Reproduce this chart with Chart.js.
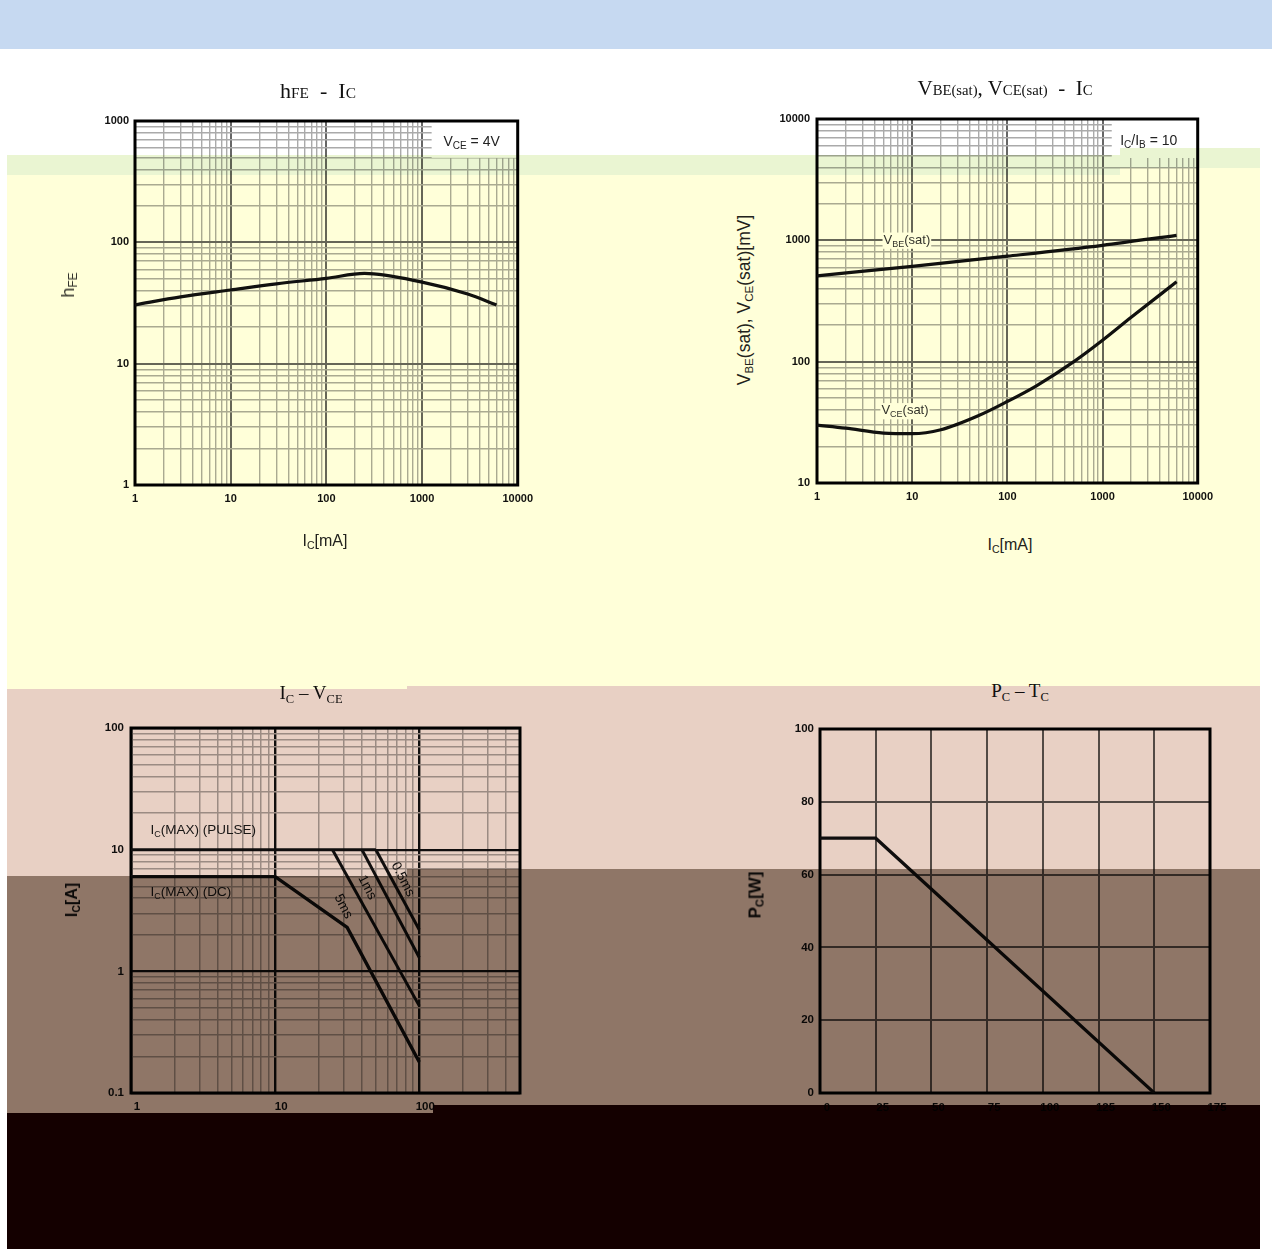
<!DOCTYPE html>
<html><head><meta charset="utf-8">
<script src="https://cdn.jsdelivr.net/npm/chart.js@4.4.1/dist/chart.umd.min.js"></script>
<style>
html,body{margin:0;padding:0;background:#fff;}
body{width:1274px;height:1249px;position:relative;overflow:hidden;font-family:"Liberation Sans",Arial,sans-serif;}
canvas.cv{position:absolute;}
.t{position:absolute;white-space:pre;transform:translate(-50%,-50%);color:#111;line-height:1;}
.rot{transform:translate(-50%,-50%) rotate(-90deg);}
.s{font-size:0.66em;position:relative;top:0.28em;}
.sm{font-size:0.7em;}
.serif{font-family:"Liberation Serif","DejaVu Serif",serif;}
.ov{position:absolute;mix-blend-mode:multiply;pointer-events:none;z-index:5;}
</style></head>
<body>
<canvas id="c1" class="cv" width="480" height="420" style="left:60px;top:100px"></canvas>
<canvas id="c2" class="cv" width="460" height="420" style="left:760px;top:98px"></canvas>
<canvas id="c3" class="cv" width="490" height="430" style="left:60px;top:705px"></canvas>
<canvas id="c4" class="cv" width="480" height="430" style="left:760px;top:705px"></canvas>

<div class="t serif" style="left:318px;top:91px;font-size:22px">h<span class="sm">FE</span>  -  I<span class="sm">C</span></div>
<div class="t serif" style="left:1005px;top:88px;font-size:21px">V<span class="sm">BE</span><span class="sm">(sat)</span>, V<span class="sm">CE</span><span class="sm">(sat)</span>  -  I<span class="sm">C</span></div>
<div class="t serif" style="left:311px;top:692px;font-size:19px">I<span class="s">C</span> – V<span class="s">CE</span></div>
<div class="t serif" style="left:1020px;top:690px;font-size:19px">P<span class="s">C</span> – T<span class="s">C</span></div>

<div class="t rot" style="left:68px;top:285px;font-size:18px;color:#333">h<span class="s">FE</span></div>
<div class="t" style="left:325px;top:541px;font-size:16px;color:#222">I<span class="s">C</span>[mA]</div>
<div class="t rot" style="left:745px;top:300px;font-size:17.5px;color:#222">V<span class="s">BE</span>(sat), V<span class="s">CE</span>(sat)[mV]</div>
<div class="t" style="left:1010px;top:545px;font-size:16px;color:#222">I<span class="s">C</span>[mA]</div>
<div class="t rot" style="left:72px;top:900px;font-size:16px;font-weight:bold;color:#111">I<span class="s">C</span>[A]</div>
<div class="t rot" style="left:755px;top:895px;font-size:17px;font-weight:bold;color:#111">P<span class="s">C</span>[W]</div>

<div class="ov" style="left:0;top:0;width:1272px;height:49px;background:#c6d9f1"></div>
<div class="ov" style="left:7px;top:155px;width:1113px;height:20px;background:#eaf5d2"></div>
<div class="ov" style="left:1120px;top:148px;width:140px;height:20px;background:#eaf5d2"></div>
<div class="ov" style="left:7px;top:175px;width:400px;height:514px;background:#ffffd9"></div>
<div class="ov" style="left:407px;top:175px;width:713px;height:511px;background:#ffffd9"></div>
<div class="ov" style="left:1120px;top:168px;width:140px;height:518px;background:#ffffd9"></div>
<div class="ov" style="left:7px;top:689px;width:400px;height:187px;background:#e8d0c4"></div>
<div class="ov" style="left:407px;top:686px;width:853px;height:183px;background:#e8d0c4"></div>
<div class="ov" style="left:7px;top:876px;width:400px;height:237px;background:#8f7667"></div>
<div class="ov" style="left:407px;top:869px;width:26px;height:244px;background:#8f7667"></div>
<div class="ov" style="left:433px;top:869px;width:827px;height:236px;background:#8f7667"></div>
<div class="ov" style="left:7px;top:1113px;width:426px;height:136px;background:#140000"></div>
<div class="ov" style="left:433px;top:1105px;width:827px;height:144px;background:#140000"></div>

<script>
// ---------------- data ----------------
// hFE - Ic  (VCE = 4V)
const hfeIc   = [1, 3, 10, 30, 100, 250, 1000, 3000, 6000];
const hfeGain = [30.5, 35.5, 40.5, 45.5, 50.5, 55.5, 47, 37.5, 30.5];
// VBE(sat), VCE(sat) - Ic  (Ic/Ib = 10)
const vbeIc  = [1, 10, 100, 1000, 6000];
const vbeSat = [510, 610, 740, 910, 1100];
const vceIc  = [1, 2, 5, 10, 20, 50, 100, 200, 500, 1000, 2000, 6000];
const vceSat = [30, 28.3, 25.8, 25.5, 27.5, 36, 47, 63, 100, 150, 232, 455];
// Safe operating area  Ic - VCE
const soaPulseV = [1, 50];       const soaPulseI = [10, 10];
const soa05V    = [50, 100];     const soa05I    = [10, 2.2];
const soa1V     = [40, 100];     const soa1I     = [10, 1.3];
const soa5V     = [25, 100];     const soa5I     = [10, 0.52];
const soaDcV    = [1, 10, 31.6, 100]; const soaDcI = [6, 6, 2.3, 0.18];
// Power derating  Pc - Tc
const tcTemp  = [0, 25, 150];
const pcPower = [70, 70, 0];
// tick labels
const hfeXLabels = [1, 10, 100, 1000, 10000];
const hfeYLabels = [1, 10, 100, 1000];
const satYLabels = [10, 100, 1000, 10000];
const soaXLabels = [1, 10, 100];
const soaYLabels = [0.1, 1, 10, 100];

// ---------------- helpers ----------------
function decadeGrid(min, max) {
  const out = [];
  for (let e = Math.floor(Math.log10(min)); e <= Math.ceil(Math.log10(max)); e++) {
    const d = Math.pow(10, e);
    for (let k = 1; k <= 9; k++) {
      const v = Number((d * k).toPrecision(6));
      if (v >= min - 1e-9 && v <= max + 1e-9) out.push(v);
    }
  }
  return out;
}
function pts(xs, ys) { return xs.map((x, i) => ({x: x, y: ys[i]})); }
function isDecade(v) { const l = Math.log10(v); return Math.abs(l - Math.round(l)) < 1e-6; }

function richDraw(ctx, segs, x, y, o) {
  const size = o.size || 13, fam = o.family || 'Liberation Sans', w = o.weight || 'normal';
  const fMain = w + ' ' + size + 'px "' + fam + '"';
  const fSub = w + ' ' + Math.round(size * 0.68) + 'px "' + fam + '"';
  ctx.save();
  ctx.translate(x, y);
  if (o.rotate) ctx.rotate(o.rotate * Math.PI / 180);
  const widths = segs.map(s => { ctx.font = s[1] ? fSub : fMain; return ctx.measureText(s[0]).width; });
  const total = widths.reduce((a, b) => a + b, 0);
  let cx = o.align === 'left' ? 0 : -total / 2;
  if (o.bg) {
    const p = o.bgPad || 2;
    ctx.fillStyle = o.bg;
    ctx.fillRect(cx - p, -size * 0.6, total + 2 * p, size * 1.25);
  }
  ctx.fillStyle = o.color || '#111';
  ctx.textBaseline = 'middle';
  ctx.textAlign = 'left';
  segs.forEach((s, i) => {
    ctx.font = s[1] ? fSub : fMain;
    ctx.fillText(s[0], cx, s[1] ? size * 0.3 : 0);
    cx += widths[i];
  });
  ctx.restore();
}

function annot(cfg) {
  return {
    id: 'annot',
    beforeDatasetsDraw(chart) {
      const c = chart.ctx, a = chart.chartArea, xs = chart.scales.x, ys = chart.scales.y;
      c.save();
      (cfg.boxes || []).forEach(b => {
        const x0 = xs.getPixelForValue(b.x0), x1 = xs.getPixelForValue(b.x1);
        const y0 = ys.getPixelForValue(b.y0), y1 = ys.getPixelForValue(b.y1);
        c.fillStyle = '#fff';
        c.fillRect(Math.min(x0, x1), Math.min(y0, y1), Math.abs(x1 - x0), Math.abs(y1 - y0));
      });
      c.strokeStyle = '#000';
      c.lineWidth = cfg.frame || 3;
      c.strokeRect(a.left, a.top, a.right - a.left, a.bottom - a.top);
      c.restore();
    },
    afterDatasetsDraw(chart) {
      const xs = chart.scales.x, ys = chart.scales.y;
      (cfg.labels || []).forEach(l => richDraw(chart.ctx, l.segs, xs.getPixelForValue(l.x), ys.getPixelForValue(l.y), l));
    }
  };
}

function logAxis(min, max, labels, opt) {
  const grid = decadeGrid(min, max);
  return {
    type: 'logarithmic', min: min, max: max,
    afterBuildTicks: s => { s.ticks = grid.map(v => ({value: v})); },
    afterFit: s => { if (opt.w) s.width = opt.w; if (opt.h) s.height = opt.h; },
    ticks: {
      autoSkip: false, maxRotation: 0, minRotation: 0,
      padding: opt.pad, labelOffset: opt.offset || 0,
      color: '#111', font: {family: 'Liberation Sans', size: opt.fs || 11, weight: 'bold'},
      callback: v => labels.some(l => Math.abs(l - v) < 1e-9) ? String(v) : ''
    },
    grid: {
      drawTicks: false,
      color: ctx => (ctx.tick && isDecade(ctx.tick.value)) ? opt.major : opt.minor,
      lineWidth: ctx => (ctx.tick && isDecade(ctx.tick.value)) ? opt.majorW : opt.minorW
    },
    border: {display: false}
  };
}

function lineDs(data, w) {
  return {data: data, borderColor: '#111', borderWidth: w || 3, pointRadius: 0, fill: false, tension: 0};
}
const base = {responsive: false, animation: false, events: [],
  plugins: {legend: {display: false}, tooltip: {enabled: false}}};

// ---------------- chart 1: hFE - Ic ----------------
new Chart(document.getElementById('c1'), {
  type: 'line',
  data: {datasets: [Object.assign(lineDs(pts(hfeIc, hfeGain), 3.2), {cubicInterpolationMode: 'monotone'})]},
  options: Object.assign({}, base, {
    layout: {padding: {left: 5, top: 21, right: 22, bottom: 5}},
    scales: {
      x: logAxis(1, 10000, hfeXLabels, {h: 30, pad: 7, major: '#666', minor: '#aaa', majorW: 2, minorW: 1.4}),
      y: logAxis(1, 1000, hfeYLabels, {w: 70, pad: 6, major: '#666', minor: '#aaa', majorW: 2, minorW: 1.4})
    }
  }),
  plugins: [annot({
    boxes: [{x0: 1260, x1: 10000, y0: 497, y1: 1000}],
    labels: [{x: 3300, y: 673, size: 14, color: '#222', segs: [['V'], ['CE', 1], [' = 4V']]}]
  })]
});

// ---------------- chart 2: VBE(sat), VCE(sat) - Ic ----------------
new Chart(document.getElementById('c2'), {
  type: 'line',
  data: {datasets: [
    Object.assign(lineDs(pts(vbeIc, vbeSat), 3.2), {cubicInterpolationMode: 'monotone'}),
    Object.assign(lineDs(pts(vceIc, vceSat), 3.2), {cubicInterpolationMode: 'monotone'})
  ]},
  options: Object.assign({}, base, {
    layout: {padding: {left: 5, top: 21, right: 22, bottom: 5}},
    scales: {
      x: logAxis(1, 10000, hfeXLabels, {h: 30, pad: 7, major: '#666', minor: '#aaa', majorW: 2, minorW: 1.4}),
      y: logAxis(10, 10000, satYLabels, {w: 52, pad: 7, major: '#666', minor: '#aaa', majorW: 2, minorW: 1.4})
    }
  }),
  plugins: [annot({
    boxes: [{x0: 1250, x1: 10000, y0: 4770, y1: 10000}],
    labels: [
      {x: 3060, y: 6600, size: 14, color: '#222', segs: [['I'], ['C', 1], ['/I'], ['B', 1], [' = 10']]},
      {x: 8.8, y: 1000, size: 13, color: '#333', bg: '#fff', bgPad: 1, segs: [['V'], ['BE', 1], ['(sat)']]},
      {x: 8.4, y: 39.3, size: 13, color: '#333', bg: '#fff', bgPad: 1, segs: [['V'], ['CE', 1], ['(sat)']]}
    ]
  })]
});

// ---------------- chart 3: Ic - VCE (SOA) ----------------
new Chart(document.getElementById('c3'), {
  type: 'line',
  data: {datasets: [
    lineDs(pts(soaPulseV, soaPulseI), 2.6),
    lineDs(pts(soa05V, soa05I), 3),
    lineDs(pts(soa1V, soa1I), 3),
    lineDs(pts(soa5V, soa5I), 3),
    lineDs(pts(soaDcV, soaDcI), 3.4)
  ]},
  options: Object.assign({}, base, {
    layout: {padding: {left: 5, top: 23, right: 30, bottom: 7}},
    scales: {
      x: logAxis(1, 500, soaXLabels, {h: 35, pad: 7, offset: 6, fs: 11.5, major: '#111', minor: '#aaa', majorW: 2.4, minorW: 1.5}),
      y: logAxis(0.1, 100, soaYLabels, {w: 66, pad: 7, fs: 11.5, major: '#111', minor: '#aaa', majorW: 2.2, minorW: 1.5})
    }
  }),
  plugins: [annot({
    labels: [
      {x: 1.365, y: 14.4, size: 13.5, align: 'left', color: '#1a1a1a', segs: [['I'], ['C', 1], ['(MAX) (PULSE)']]},
      {x: 1.365, y: 4.46, size: 13.5, align: 'left', color: '#1a1a1a', segs: [['I'], ['C', 1], ['(MAX) (DC)']]},
      {x: 29.7, y: 3.42, size: 13.5, rotate: 63, color: '#111', segs: [['5ms']]},
      {x: 43.5, y: 4.9, size: 13.5, rotate: 63, color: '#111', segs: [['1ms']]},
      {x: 77, y: 5.7, size: 13.5, rotate: 63, color: '#111', segs: [['0.5ms']]}
    ]
  })]
});

// ---------------- chart 4: Pc - Tc ----------------
new Chart(document.getElementById('c4'), {
  type: 'line',
  data: {datasets: [lineDs(pts(tcTemp, pcPower), 3.2)]},
  options: Object.assign({}, base, {
    layout: {padding: {left: 5, top: 24, right: 30, bottom: 7}},
    scales: {
      x: {type: 'linear', min: 0, max: 175,
        afterFit: s => { s.height = 35; },
        ticks: {stepSize: 25, autoSkip: false, maxRotation: 0, padding: 8, labelOffset: 7, color: '#111',
          font: {family: 'Liberation Sans', size: 11.5, weight: 'bold'}},
        grid: {drawTicks: false, color: '#5a5a5a', lineWidth: 2}, border: {display: false}},
      y: {type: 'linear', min: 0, max: 100,
        afterFit: s => { s.width = 55; },
        ticks: {stepSize: 20, autoSkip: false, padding: 6, color: '#111',
          font: {family: 'Liberation Sans', size: 11.5, weight: 'bold'}},
        grid: {drawTicks: false, color: '#5a5a5a', lineWidth: 2}, border: {display: false}}
    }
  }),
  plugins: [annot({})]
});
</script>
</body></html>
